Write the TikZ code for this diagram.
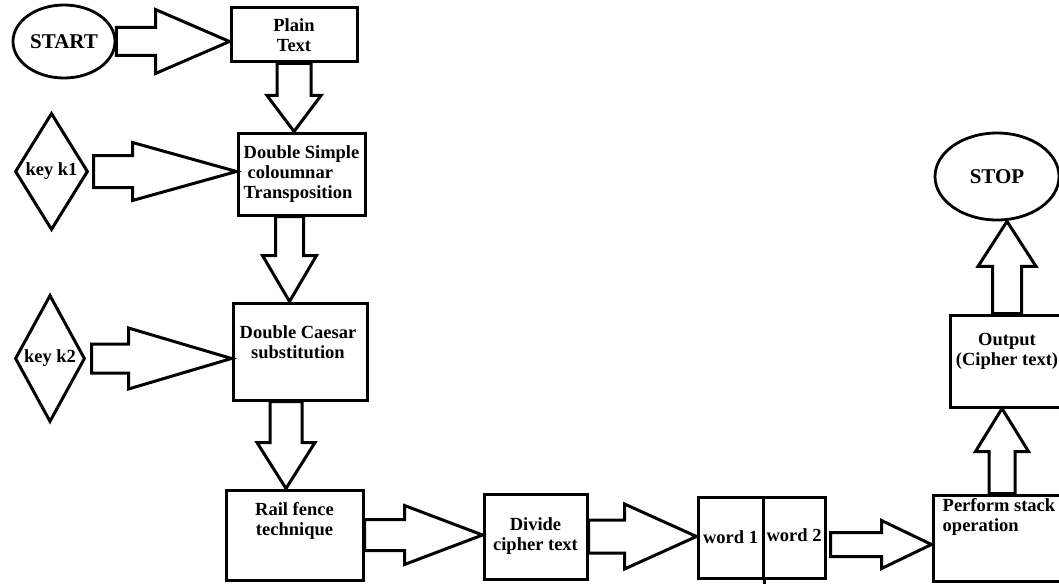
\documentclass[tikz,border=0pt]{standalone}
\usepackage{fontspec}
\setmainfont{Liberation Serif}
\usetikzlibrary{calc,positioning,shapes.geometric}

\tikzset{
    box/.style={draw, rectangle, line width=3pt, inner sep=0pt,
        font=\fontsize{18.5}{20}\selectfont\bfseries},
    term/.style={draw, ellipse, line width=2.8pt, inner sep=0pt,
        font=\fontsize{21}{24}\selectfont\bfseries},
    keynode/.style={draw, diamond, line width=3pt, inner sep=0pt,
        font=\fontsize{18.5}{20}\selectfont\bfseries},
    boxlabel/.style={inner sep=0pt, align=center,
        font=\fontsize{18.5}{20}\selectfont\bfseries},
    blockline/.style={draw, line width=3pt, fill=white, line join=miter}
}

% fat arrow: from, to, shaft half width, head half width, head length
\newcommand{\blockarrow}[5]{%
    \coordinate (ba-a) at (#1);
    \coordinate (ba-b) at (#2);
    \coordinate (ba-n) at ($(ba-b)!#5!(ba-a)$);
    \draw[blockline] ($(ba-a)!#3!90:(ba-b)$) -- ($(ba-n)!#3!-90:(ba-a)$)
        -- ($(ba-n)!#4!-90:(ba-a)$) -- (ba-b) -- ($(ba-n)!#4!90:(ba-a)$)
        -- ($(ba-n)!#3!90:(ba-a)$) -- ($(ba-a)!#3!-90:(ba-b)$) -- cycle;
}

\begin{document}
\begin{tikzpicture}[x=1pt, y=-1pt]

    \useasboundingbox (0,0) rectangle (1059,583);
    \clip (0,0) rectangle (1059,583);

    % 1. start and the plain text
    \node[term, minimum width=102pt, minimum height=73pt] (start) at (64,41.5) {\makebox[0pt]{START}};
    \node[box, minimum width=126pt, minimum height=54pt, align=center] (plain) at (294,35) {Plain\\Text};

    % 2. the two keys and the two ciphers
    \node[keynode, minimum width=73pt, minimum height=117pt] (k1) at (51.5,171.5) {\makebox[0pt]{key k1}};
    \node[box, minimum width=127pt, minimum height=82pt, align=left] (dsimple) at (301.5,174)
        {Double Simple\\\hspace{4pt}coloumnar\\Transposition};

    \node[keynode, minimum width=70pt, minimum height=127pt] (k2) at (50,358.5) {\makebox[0pt]{key k2}};
    \node[box, minimum width=134pt, minimum height=97pt,
        label={[boxlabel, anchor=north, xshift=-2pt, yshift=-24pt]north:Double Caesar\\substitution}] (dcaesar) at (300,351.5) {};

    % 3. bottom row
    \node[box, minimum width=137pt, minimum height=90pt,
        label={[boxlabel, anchor=north, yshift=-14pt]north:Rail fence\\technique}] (rail) at (294.5,535) {};
    \node[box, minimum width=103pt, minimum height=85pt, align=center] (divide) at (535.5,536.5) {Divide\\cipher text};
    \node[box, minimum width=65pt, minimum height=81pt] (word1) at (730.5,537.5) {word 1};
    \node[box, minimum width=62pt, minimum height=81pt] (word2) at (794,537.5) {\raisebox{4pt}{word 2}};
    \draw[line width=3pt] (word1.south east) -- ++(0,6);
    \node[box, minimum width=142pt, minimum height=86pt,
        label={[boxlabel, align=left, anchor=north west, xshift=11pt, yshift=-5pt]north west:Perform stack\\operation}] (perform) at (1004,538) {};

    % 4. right column
    \node[box, minimum width=114pt, minimum height=92pt,
        label={[boxlabel, anchor=north, yshift=-20pt]north:Output\\(Cipher text)}] (output) at (1007,361) {};
    \node[term, minimum width=124pt, minimum height=87pt] (stop) at (997,176.5) {\makebox[0pt]{STOP}};

    % 5. fat arrows
    \blockarrow{start.east}{plain.west |- start.east}{14pt}{32pt}{74pt}
    \blockarrow{plain.south}{plain.south |- dsimple.north}{17pt}{27pt}{36pt}
    \blockarrow{$(k1.east)+(4,0)$}{dsimple.west |- k1.east}{16pt}{29pt}{104pt}
    \blockarrow{$(dsimple.south)+(-12,0)$}{ba-a |- dcaesar.north}{14pt}{27pt}{46pt}
    \blockarrow{$(k2.east)+(5,0)$}{dcaesar.west |- k2.east}{14.5pt}{30.5pt}{103pt}
    \blockarrow{$(dcaesar.south)+(-14,0)$}{ba-a |- rail.north}{16pt}{29pt}{46pt}
    \blockarrow{rail.east}{divide.west |- rail.east}{15.5pt}{29.5pt}{78pt}
    \blockarrow{divide.east}{word1.west |- divide.east}{16.5pt}{32.5pt}{72pt}
    \blockarrow{$(word2.east)+(4,7)$}{perform.west |- ba-a}{12pt}{24pt}{50pt}
    \blockarrow{$(perform.north)+(-2,0)$}{ba-a |- output.south}{13pt}{26.5pt}{43pt}
    \blockarrow{output.north}{ba-a |- stop.south}{14.5pt}{29pt}{45pt}

\end{tikzpicture}
\end{document}
